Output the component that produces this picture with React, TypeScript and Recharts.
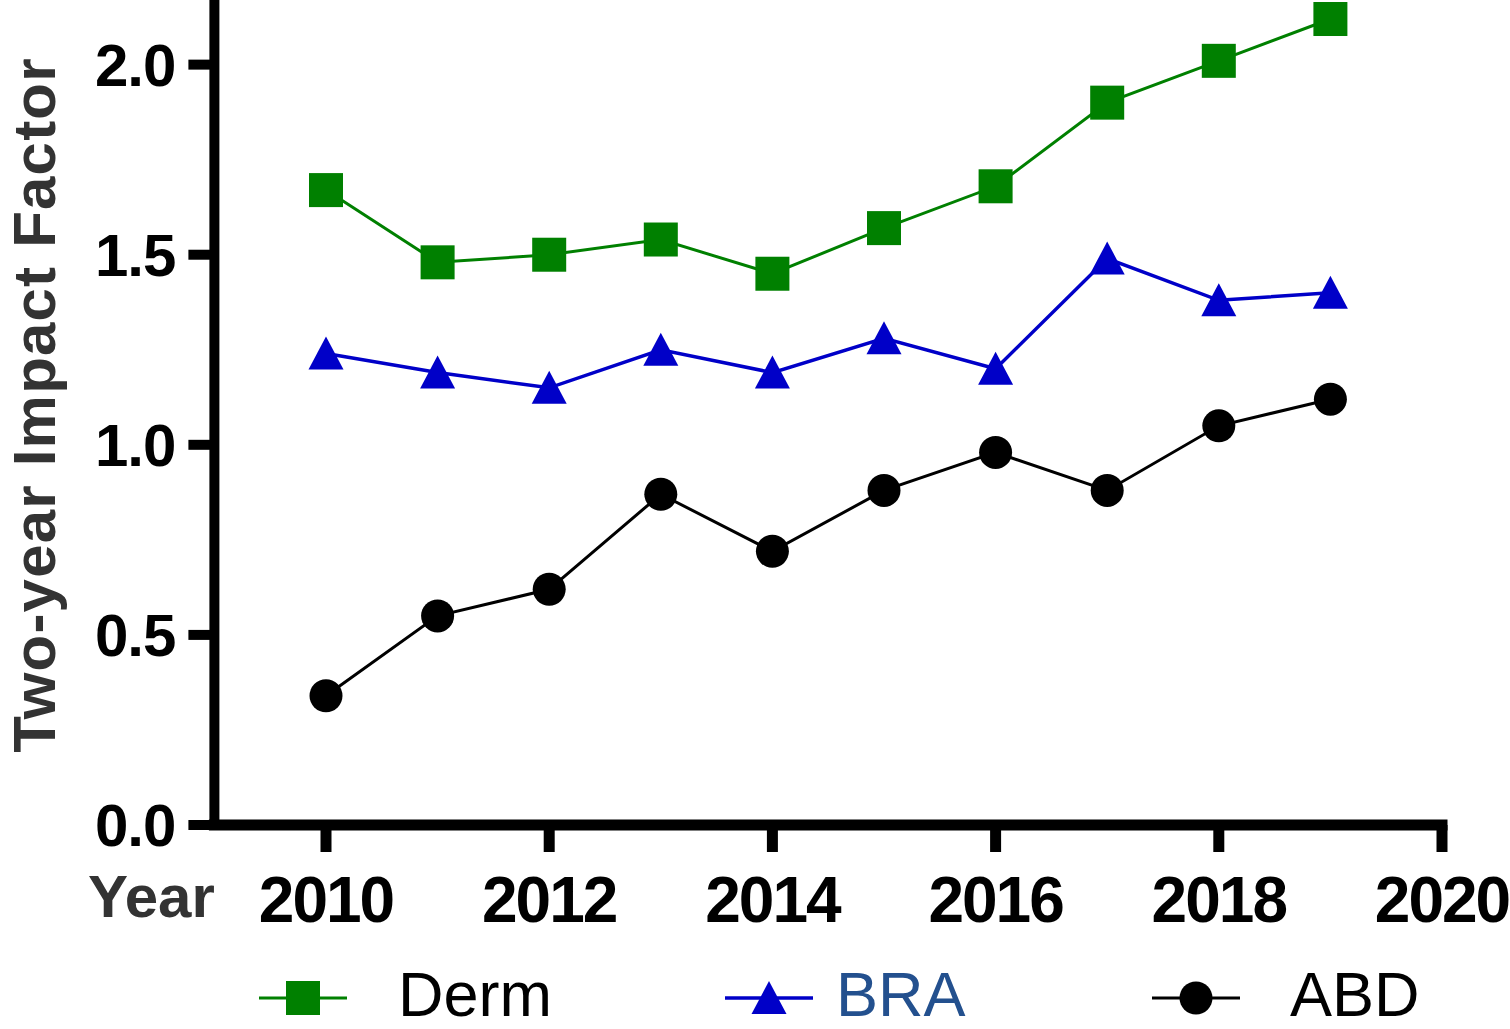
import React from 'react';
import { LineChart, Line, XAxis, YAxis, Legend, Label } from 'recharts';

const years = [2010, 2011, 2012, 2013, 2014, 2015, 2016, 2017, 2018, 2019];
const derm = [1.67, 1.48, 1.5, 1.54, 1.45, 1.57, 1.68, 1.9, 2.01, 2.12];
const bra = [1.24, 1.19, 1.15, 1.25, 1.19, 1.28, 1.2, 1.49, 1.38, 1.4];
const abd = [0.34, 0.55, 0.62, 0.87, 0.72, 0.88, 0.98, 0.88, 1.05, 1.12];
const xTicks = [2010, 2012, 2014, 2016, 2018, 2020];
const yTicks = [0, 0.5, 1.0, 1.5, 2.0];

const data = years.map((year, i) => ({ year, Derm: derm[i], BRA: bra[i], ABD: abd[i] }));

const FONT = '"Liberation Sans", Arial, sans-serif';

type Shape = 'square' | 'triangle' | 'circle';

const series: { key: string; color: string; textColor: string; shape: Shape; width: number }[] = [
  { key: 'Derm', color: '#008000', textColor: '#000', shape: 'square', width: 3 },
  { key: 'BRA', color: '#0000c8', textColor: '#23508e', shape: 'triangle', width: 3.5 },
  { key: 'ABD', color: '#000000', textColor: '#000', shape: 'circle', width: 3 },
];

const Marker = ({ cx, cy, shape, color }: { cx: number; cy: number; shape: Shape; color: string }) => {
  if (shape === 'square') {
    return <rect x={cx - 17} y={cy - 17} width={34} height={34} fill={color} />;
  }
  if (shape === 'triangle') {
    return (
      <polygon
        points={`${cx},${cy - 17} ${cx + 17.5},${cy + 16} ${cx - 17.5},${cy + 16}`}
        fill={color}
      />
    );
  }
  return <circle cx={cx} cy={cy} r={16.5} fill={color} />;
};

// legend slots: sample line start and text start for each entry
const legendLineX = [259, 725, 1152];
const legendTextX = [398, 836, 1290];

const renderLegend = () => (
  <svg width={1510} height={79}>
    {series.map((s, i) => {
      const x0 = legendLineX[i];
      const cy = 48;
      return (
        <g key={s.key}>
          <line x1={x0} x2={x0 + 88} y1={cy} y2={cy} stroke={s.color} strokeWidth={s.width} />
          <Marker cx={x0 + 44} cy={cy} shape={s.shape} color={s.color} />
          <text x={legendTextX[i]} y={66} fontSize={63} fontFamily={FONT} fill={s.textColor}>
            {s.key}
          </text>
        </g>
      );
    })}
  </svg>
);

export default function App() {
  return (
    <div style={{ position: 'absolute', left: 0, top: 0, width: 1510, height: 1029, background: '#fff' }}>
      <LineChart width={1510} height={1029} data={data} margin={{ top: 0, right: 68, bottom: 0, left: 0 }}>
        <XAxis
          dataKey="year"
          type="number"
          domain={[2009, 2020]}
          ticks={xTicks}
          height={125}
          axisLine={{ stroke: '#000', strokeWidth: 11, strokeLinecap: 'square' }}
          tickLine={{ stroke: '#000', strokeWidth: 11 }}
          tickSize={27}
          tickMargin={25}
          tick={{ fontSize: 64, fontWeight: 700, fill: '#000', fontFamily: FONT, letterSpacing: -2 }}
        >
          <Label
            content={() => (
              <text x={88} y={917} fontSize={60} fontWeight={700} fill="#333" fontFamily={FONT}>
                Year
              </text>
            )}
          />
        </XAxis>
        <YAxis
          type="number"
          domain={[0, 2.17]}
          ticks={yTicks}
          width={214.4}
          allowDataOverflow
          axisLine={{ stroke: '#000', strokeWidth: 10 }}
          tickLine={{ stroke: '#000', strokeWidth: 10 }}
          tickSize={26}
          tickMargin={13}
          tickFormatter={(v: number) => v.toFixed(1)}
          tick={{ fontSize: 60, fontWeight: 700, fill: '#000', fontFamily: FONT, letterSpacing: -1 }}
        >
          <Label
            content={() => (
              <text
                x={55}
                y={405}
                transform="rotate(-90 55 405)"
                textAnchor="middle"
                fontSize={60}
                fontWeight={700}
                letterSpacing={1.2}
                fill="#333"
                fontFamily={FONT}
              >
                Two-year Impact Factor
              </text>
            )}
          />
        </YAxis>
        <Legend
          verticalAlign="bottom"
          content={renderLegend}
          wrapperStyle={{ width: 1510, height: 79, left: 0, bottom: 0 }}
        />
        {series.map((s) => (
          <Line
            key={s.key}
            dataKey={s.key}
            stroke={s.color}
            strokeWidth={s.width}
            isAnimationActive={false}
            dot={(p: any) => (
              <Marker key={`${s.key}-${p.index}`} cx={p.cx} cy={p.cy} shape={s.shape} color={s.color} />
            )}
            activeDot={false}
          />
        ))}
      </LineChart>
    </div>
  );
}
